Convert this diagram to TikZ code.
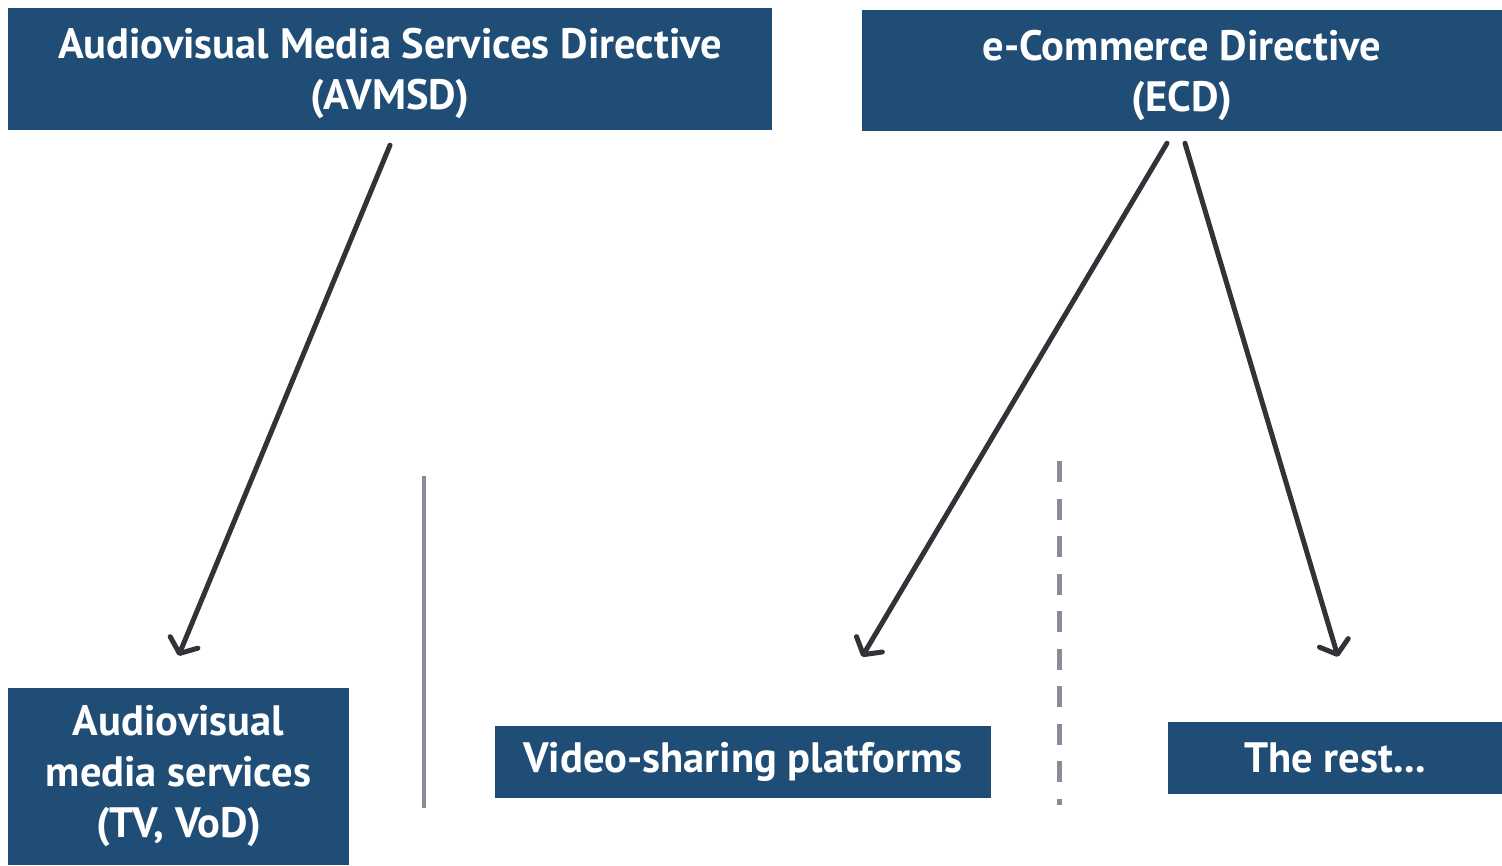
\documentclass[tikz,border=0pt]{standalone}
\usepackage{fontspec}
\setmainfont{PT Sans}
\usetikzlibrary{arrows.meta}
\definecolor{boxblue}{RGB}{31,77,118}
\definecolor{arrowgray}{RGB}{50,50,56}
\definecolor{linegray}{RGB}{138,138,152}
\tikzset{
  box/.style={fill=boxblue, text=white, inner sep=0pt, align=center,
    font=\fontsize{42.5}{51}\selectfont\bfseries},
  topbox/.style={box, text depth=0pt},
  arr/.style={draw=arrowgray, line width=5pt, line cap=round,
    -{Straight Barb[length=12pt,width=30pt,line cap=round,line join=round]}},
  divider/.style={draw=linegray, line width=4.5pt}
}
\begin{document}
\begin{tikzpicture}[x=1pt,y=-1pt]
\useasboundingbox (0,0) rectangle (1502,865);
\node[topbox, minimum width=764pt, minimum height=122pt] (avmsd) at (390,69)
  {Audiovisual Media Services Directive\\(AVMSD)};
\node[topbox, minimum width=640pt, minimum height=121pt] (ecd) at (1182,70.5)
  {e-Commerce Directive\\(ECD)};
\node[box, minimum width=341pt, minimum height=177pt] (avms) at (178.5,776.5)
  {Audiovisual\\media services\\(TV, VoD)};
\node[box, minimum width=496pt, minimum height=72pt] (vsp) at (743,762)
  {Video-sharing platforms};
\node[box, minimum width=334pt, minimum height=72pt] (rest) at (1335,758)
  {The rest...};
\coordinate (d1top) at (424,476);
\coordinate (d1bot) at (424,808);
\coordinate (d2top) at (1059,461);
\coordinate (d2bot) at (1059,805);
\draw[divider] (d1top) -- (d1bot);
\draw[divider, line width=5pt, dash pattern=on 21pt off 16.5pt] (d2top) -- (d2bot);
\draw[arr] ([yshift=-15pt]avmsd.south) -- ([yshift=32pt]avms.north);
\draw[arr] ([xshift=-15pt,yshift=-12pt]ecd.south) -- ([xshift=119pt,yshift=69pt]vsp.north);
\draw[arr] ([xshift=3pt,yshift=-12pt]ecd.south) -- ([xshift=3pt,yshift=65pt]rest.north);
\end{tikzpicture}
\end{document}
